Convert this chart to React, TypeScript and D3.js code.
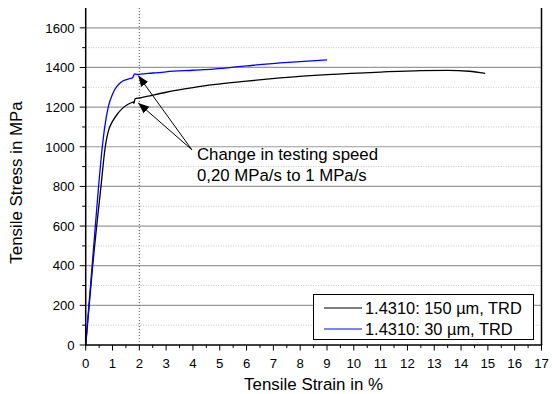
import React from "react";
import * as d3 from "d3";

// strain in %, stress in MPa
const strain150 = [0, 0.26, 0.57, 0.73, 0.78, 0.87, 1.0, 1.2, 1.38, 1.55, 1.7, 1.78, 1.8, 1.84, 2.0, 2.28, 3, 4, 4.76, 6, 7.25, 9, 11, 12.5, 13.5, 14.3, 14.9];
const stress150 = [0, 400, 800, 1000, 1040, 1090, 1128, 1168, 1195, 1212, 1222, 1226, 1219, 1242, 1246, 1254, 1275, 1298, 1313, 1331, 1347, 1364, 1377, 1384, 1385, 1381, 1370];

const strain30 = [0, 0.24, 0.48, 0.62, 0.7, 0.84, 1.0, 1.09, 1.25, 1.4, 1.6, 1.72, 1.76, 1.82, 1.9, 2.03, 2.5, 3, 4, 4.76, 6, 7.25, 8, 9];
const stress30 = [0, 400, 800, 1000, 1090, 1200, 1265, 1290, 1318, 1333, 1342, 1346, 1350, 1368, 1365, 1366, 1372, 1378, 1386, 1392, 1408, 1423, 1430, 1438];

const seriesNames = ["1.4310: 150 \u00b5m, TRD", "1.4310: 30 \u00b5m, TRD"];
const seriesColors = ["#000000", "#0000ff"];

const xTicks = d3.range(0, 18);
const yTicks = d3.range(0, 1700, 200);
const noteLines = ["Change in testing speed", "0,20 MPa/s to 1 MPa/s"];

const W = 552;
const H = 394;
const m = { left: 85.7, right: 10.5, top: 8, bottom: 49 };

export default function App() {
  const x = d3.scaleLinear().domain([0, 17]).range([m.left, W - m.right]);
  const y = d3.scaleLinear().domain([0, 1700]).range([H - m.bottom, m.top]);

  const line = d3
    .line<[number, number]>()
    .x((d) => x(d[0]))
    .y((d) => y(d[1]))
    .curve(d3.curveMonotoneX);

  const s150 = strain150.map((v, i) => [v, stress150[i]] as [number, number]);
  const s30 = strain30.map((v, i) => [v, stress30[i]] as [number, number]);

  const font = "'Liberation Sans', Arial, sans-serif";
  const minorY = d3.range(100, 1700, 200);
  const minorX = d3.range(0.5, 17, 1);

  // annotation anchor points in data units
  const arrowFrom: [number, number] = [3.96, 985];
  const arrowTo: [number, number][] = [
    [1.96, 1359],
    [1.96, 1221],
  ];

  return (
    <svg
      width={W}
      height={H}
      style={{ position: "absolute", left: 0, top: 0, background: "#fff" }}
      fontFamily={font}
    >
      <defs>
        <marker id="ah" viewBox="0 0 10 10" refX="10" refY="5" markerWidth="11" markerHeight="11" markerUnits="userSpaceOnUse" orient="auto">
          <path d="M0,1 L10,5 L0,9 z" fill="#000" />
        </marker>
      </defs>

      {/* grid */}
      {minorY.map((v) => (
        <line key={"my" + v} x1={x(0)} x2={x(17)} y1={y(v)} y2={y(v)} stroke="#c4c4c4" strokeDasharray="1,1.5" />
      ))}
      {yTicks.slice(1).map((v) => (
        <line key={"gy" + v} x1={x(0)} x2={x(17)} y1={y(v)} y2={y(v)} stroke="#9a9a9a" strokeWidth={1.2} />
      ))}
      <line x1={x(2)} x2={x(2)} y1={y(0)} y2={y(1700)} stroke="#555" strokeDasharray="1,2" />

      {/* curves */}
      <path d={line(s150) || ""} fill="none" stroke={seriesColors[0]} strokeWidth={1.3} />
      <path d={line(s30) || ""} fill="none" stroke={seriesColors[1]} strokeWidth={1.3} />

      {/* annotation */}
      {arrowTo.map((p, i) => (
        <line key={"ar" + i} x1={x(arrowFrom[0])} y1={y(arrowFrom[1])} x2={x(p[0])} y2={y(p[1])} stroke="#000" strokeWidth={1} markerEnd="url(#ah)" />
      ))}
      {noteLines.map((t, i) => (
        <text key={t} x={x(4.15)} y={y(934) + i * 21} fontSize={16.8} fill="#000">
          {t}
        </text>
      ))}

      {/* axes */}
      <line x1={x(0)} x2={x(0)} y1={y(0)} y2={y(1700)} stroke="#000" strokeWidth={1.5} />
      <line x1={x(17)} x2={x(17)} y1={y(0)} y2={y(1700)} stroke="#000" strokeWidth={1.5} />
      <line x1={x(0) - 0.7} x2={x(17) + 0.7} y1={y(0)} y2={y(0)} stroke="#000" strokeWidth={1.5} />

      {yTicks.map((v) => (
        <g key={"yt" + v}>
          <line x1={x(0) - 6} x2={x(0)} y1={y(v)} y2={y(v)} stroke="#000" />
          <text x={x(0) - 11} y={y(v)} dy="0.36em" textAnchor="end" fontSize={13.2}>
            {v}
          </text>
        </g>
      ))}
      {minorY.map((v) => (
        <line key={"ym" + v} x1={x(0) - 3.5} x2={x(0)} y1={y(v)} y2={y(v)} stroke="#000" />
      ))}
      {xTicks.map((v) => (
        <g key={"xt" + v}>
          <line x1={x(v)} x2={x(v)} y1={y(0)} y2={y(0) + 5.5} stroke="#000" />
          <text x={x(v)} y={y(0) + 23} textAnchor="middle" fontSize={13.2}>
            {v}
          </text>
        </g>
      ))}
      {minorX.map((v) => (
        <line key={"xm" + v} x1={x(v)} x2={x(v)} y1={y(0)} y2={y(0) + 3} stroke="#000" />
      ))}

      <text x={(x(0) + x(17)) / 2} y={390} textAnchor="middle" fontSize={16.9}>
        Tensile Strain in %
      </text>
      <text transform={`translate(22, ${(y(0) + y(1700)) / 2 + 6}) rotate(-90)`} textAnchor="middle" fontSize={16.9}>
        Tensile Stress in MPa
      </text>

      {/* legend */}
      <rect x={313.5} y={294.5} width={220} height={45} fill="#fff" stroke="#000" strokeWidth={1} />
      {seriesNames.map((n, i) => (
        <g key={n} transform={`translate(324, ${308 + i * 21})`}>
          <line x1={0} x2={38} y1={0} y2={0} stroke={seriesColors[i]} strokeWidth={1.2} />
          <text x={41} y={0} dy="0.36em" fontSize={16.4}>
            {n}
          </text>
        </g>
      ))}
    </svg>
  );
}
